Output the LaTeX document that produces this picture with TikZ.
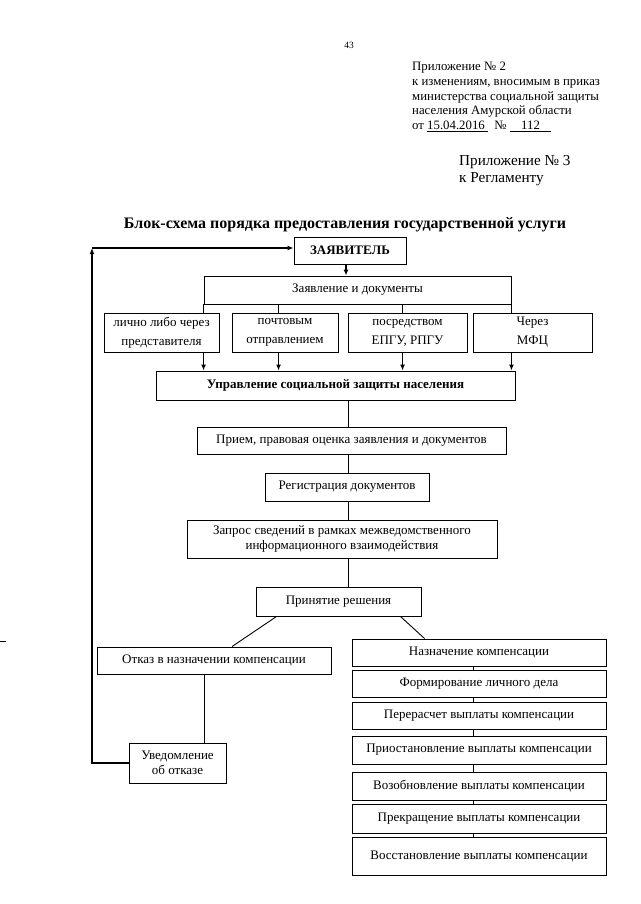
\documentclass[tikz,border=0pt]{standalone}
\usepackage{fontspec}
\setmainfont{Liberation Serif}
\usetikzlibrary{arrows.meta,positioning}
\tikzset{
  blk/.style={draw,line width=0.9pt,rectangle,inner sep=1pt,align=center,font=\fontsize{13}{15.5}\selectfont},
  way/.style={blk,font=\fontsize{13}{19}\selectfont},
  sz/.style 2 args={minimum width=#1pt,minimum height=#2pt},
  conn/.style={line width=0.9pt},
  flow/.style={-{Latex[length=6pt,width=5pt]},line width=1.4pt},
  note/.style={inner sep=0pt,align=left,anchor=north west}
}

\begin{document}
\begin{tikzpicture}[x=1pt,y=-1pt]
\useasboundingbox (0,0) rectangle (640,904);

% header
\node[font=\fontsize{9.5}{11}\selectfont] (pg) at (349,45) {43};
\node[note,font=\fontsize{12.8}{14.75}\selectfont] (hdr) at (412,62)
  {Приложение № 2\\к изменениям, вносимым в приказ\\министерства социальной защиты\\населения Амурской области\\от \underline{15.04.2016\ }\ \ № \underline{\hspace{4mm}112\hspace{4mm}}};
\node[note,font=\fontsize{15.2}{17}\selectfont] (reg3) at (459,155) {Приложение № 3\\к Регламенту};
\node[font=\bfseries\fontsize{16}{18}\selectfont] (title) at (345,225)
  {Блок-схема порядка предоставления государственной услуги};

% upper part
\node[blk,sz={112}{27}] (zayav) at (350,250.5) {\textbf{ЗАЯВИТЕЛЬ}};
\node[blk,sz={307}{28}] (zd) at (357.5,290) {Заявление и документы};
\node[way,sz={115}{39}] (b1) at (161.5,332.5) {лично либо через\\представителя};
\node[way,sz={106}{39}] (b2) at (285,332.5) {почтовым\\отправлением};
\node[way,sz={119}{39}] (b3) at (407.5,332.5) {посредством\\ЕПГУ, РПГУ};
\node[way,sz={119}{39}] (b4) at (532.5,332.5) {Через\\МФЦ};
\node[blk,sz={359}{29}] (uszn) at (335.5,385.5) {\textbf{Управление социальной защиты населения}};

\coordinate (t2) at ([xshift=75pt]zd.south west);
\coordinate (t3) at ([xshift=199pt]zd.south west);

\draw[flow] (zayav.south -| 346,0) -- (zd.north -| 346,0);
\draw[conn] (zd.south west) -- (zd.south west |- b1.north);
\draw[conn] (t2) -- (t2 |- b2.north);
\draw[conn] (t3) -- (t3 |- b3.north);
\draw[conn] (zd.south east) -- (zd.south east |- b4.north);
\draw[flow] (zd.south west |- b1.south) -- (zd.south west |- uszn.north);
\draw[flow] (t2 |- b2.south) -- (t2 |- uszn.north);
\draw[flow] (t3 |- b3.south) -- (t3 |- uszn.north);
\draw[flow] (zd.south east |- b4.south) -- (zd.south east |- uszn.north);

% main chain
\node[blk,sz={309}{27}] (priem) at (351.5,440.5) {Прием, правовая оценка заявления и документов};
\node[blk,sz={164}{28}] (regd) at (347,487) {Регистрация документов};
\node[blk,sz={310}{38}] (zapros) at (342,539) {Запрос сведений в рамках межведомственного\\информационного взаимодействия};
\node[blk,sz={165}{29}] (prin) at (338.5,601.5) {Принятие решения};

\coordinate (ax) at (348,0);
\draw[conn] (uszn.south -| ax) -- (priem.north -| ax);
\draw[conn] (priem.south -| ax) -- (regd.north -| ax);
\draw[conn] (regd.south -| ax) -- (zapros.north -| ax);
\draw[conn] (zapros.south -| ax) -- (prin.north -| ax);

% refusal branch
\node[blk,sz={234}{27}] (otkaz) at (214,660.5) {Отказ в назначении компенсации};
\node[blk,sz={97}{40}] (uved) at (177.5,763) {Уведомление\\об отказе};
\coordinate (ret) at (92,248);

\draw[conn] ([xshift=21pt]prin.south west) -- ([xshift=18pt]otkaz.north);
\draw[conn] ([xshift=-10pt]otkaz.south) -- ([xshift=-10pt]otkaz.south |- uved.north);
\draw[flow] (uved.west) -| (ret);
\draw[flow] (ret) -- (ret -| zayav.west);

% grant branch
\node[blk,sz={254}{27}] (n1) at (479,652.5) {Назначение компенсации};
\node[blk,sz={254}{27}] (n2) at (479,683.5) {Формирование личного дела};
\node[blk,sz={254}{27}] (n3) at (479,715.5) {Перерасчет выплаты компенсации};
\node[blk,sz={254}{28}] (n4) at (479,750) {Приостановление выплаты компенсации};
\node[blk,sz={254}{28}] (n5) at (479,786) {Возобновление выплаты компенсации};
\node[blk,sz={254}{29}] (n6) at (479,818.5) {Прекращение выплаты компенсации};
\node[blk,sz={254}{38}] (n7) at (479,856) {Восстановление выплаты компенсации};

\draw[conn] ([xshift=-21pt]prin.south east) -- ([xshift=73pt]n1.north west);
\foreach \a/\b in {n1/n2,n2/n3,n3/n4,n4/n5,n5/n6,n6/n7}
  \draw[conn] ([xshift=-6pt]\a.south) -- ([xshift=-6pt]\b.north);

% margin mark
\draw[conn] (0,641) -- (6,641);

\end{tikzpicture}
\end{document}
